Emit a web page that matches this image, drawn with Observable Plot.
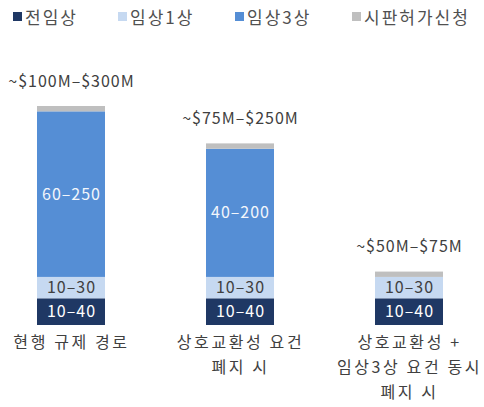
<!DOCTYPE html>
<html>
<head>
<meta charset="utf-8">
<script src="https://cdn.jsdelivr.net/npm/d3@7"></script>
<script src="https://cdn.jsdelivr.net/npm/@observablehq/plot@0.6"></script>
<style>
  html, body { margin: 0; padding: 0; background: #fff; }
  body { width: 484px; height: 407px; overflow: hidden; font-family: "Noto Sans CJK KR", "Noto Sans", sans-serif; }
  #legend { position: relative; height: 30px; width: 484px; }
  .item { position: absolute; top: 4px; height: 24px; display: flex; align-items: center; font-size: 17px; color: #505050; letter-spacing: 2px; }
  .sw { width: 9px; height: 9px; margin-right: 3px; }
  #chart svg { display: block; }
</style>
</head>
<body>
<div id="legend"></div>
<div id="chart"></div>
<script>
const categories = ["현행 규제 경로", "상호교환성 요건\n폐지 시", "상호교환성 +\n임상3상 요건 동시\n폐지 시"];
const stages = ["전임상", "임상1상", "임상3상", "시판허가신청"];
const stageColors = ["#1F3864", "#C6D9F1", "#558ED5", "#BFBFBF"];
const labelColors = ["#FFFFFF", "#404040", "#F2F6FC", "#404040"];

const preclinical = [25, 25, 25];
const phase1 = [20, 20, 20];
const phase3 = [155, 120, 0];
const filing = [5, 5, 5];

const preclinicalLabels = ["10–40", "10–40", "10–40"];
const phase1Labels = ["10–30", "10–30", "10–30"];
const phase3Labels = ["60–250", "40–200", ""];
const filingLabels = ["", "", ""];
const totalLabels = ["~$100M–$300M", "~$75M–$250M", "~$50M–$75M"];

const seriesValues = [preclinical, phase1, phase3, filing];
const seriesLabels = [preclinicalLabels, phase1Labels, phase3Labels, filingLabels];

const rows = [];
stages.forEach((s, si) => {
  categories.forEach((c, ci) => {
    rows.push({cat: c, stage: s, value: seriesValues[si][ci], label: seriesLabels[si][ci], lc: labelColors[si]});
  });
});
const totals = categories.map((c, ci) => ({cat: c, total: d3.sum(seriesValues, v => v[ci]), label: totalLabels[ci]}));

// legend
const legendPos = [13, 118, 235, 352];
const legend = document.getElementById("legend");
stages.forEach((s, i) => {
  const it = document.createElement("div");
  it.className = "item";
  it.style.left = legendPos[i] + "px";
  const sw = document.createElement("span");
  sw.className = "sw";
  sw.style.background = stageColors[i];
  const t = document.createElement("span");
  t.textContent = s;
  it.appendChild(sw); it.appendChild(t);
  legend.appendChild(it);
});

const font = "Noto Sans CJK KR";
const chart = Plot.plot({
  width: 484,
  height: 377,
  marginLeft: 20,
  marginRight: 24,
  marginTop: 76,
  marginBottom: 82,
  style: {fontFamily: font, background: "#fff"},
  x: {domain: categories, paddingInner: 0.6, paddingOuter: 0.1, axis: null},
  y: {domain: [0, 205], axis: null},
  color: {domain: stages, range: stageColors},
  marks: [
    Plot.barY(rows, {x: "cat", y: "value", fill: "stage", order: null}),
    Plot.text(rows.filter(d => d.label), Plot.stackY({x: "cat", y: "value", z: "stage", text: "label", fill: "lc", fontSize: 16})),
    Plot.text(totals, {x: "cat", y: "total", text: "label", dy: -25, fill: "#404040", fontSize: 16}),
    Plot.text(categories, {x: d => d, y: 0, text: d => d, lineAnchor: "top", dy: 5, lineHeight: 1.55, fill: "#404040", fontSize: 16})
  ]
});
const textGroups = d3.select(chart).selectAll("g[aria-label=text]").nodes();
textGroups.forEach((g, i) => {
  g.style.letterSpacing = i === 2 ? "2.6px" : "1px";
});
document.getElementById("chart").appendChild(chart);
</script>
</body>
</html>
